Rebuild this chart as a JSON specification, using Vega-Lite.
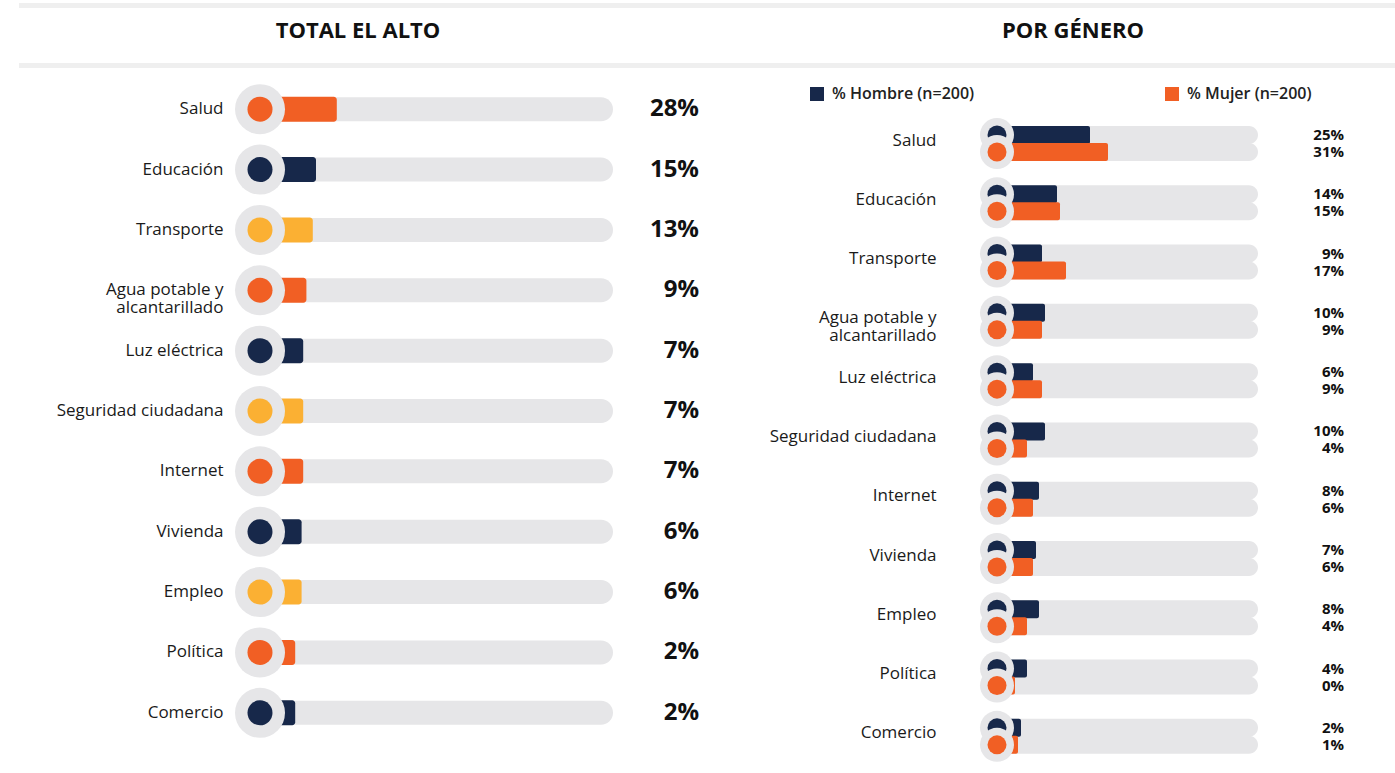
{
  "$schema": "https://vega.github.io/schema/vega-lite/v6.json",
  "padding": {"left": 18, "top": 2, "right": 0, "bottom": 0},
  "background": "white",
  "spacing": 0,
  "align": "none",
  "resolve": {"scale": {"color": "independent"}, "legend": {"color": "independent"}},
  "config": {"view": {"stroke": null}, "font": "Open Sans"},
  "datasets": {
    "total": [
      {"categoria": "Salud", "valor": 0.28},
      {"categoria": "Educación", "valor": 0.15},
      {"categoria": "Transporte", "valor": 0.13},
      {"categoria": "Agua potable y alcantarillado", "valor": 0.09},
      {"categoria": "Luz eléctrica", "valor": 0.07},
      {"categoria": "Seguridad ciudadana", "valor": 0.07},
      {"categoria": "Internet", "valor": 0.07},
      {"categoria": "Vivienda", "valor": 0.06},
      {"categoria": "Empleo", "valor": 0.06},
      {"categoria": "Política", "valor": 0.02},
      {"categoria": "Comercio", "valor": 0.02}
    ],
    "genero": [
      {"categoria": "Salud", "genero": "% Hombre (n=200)", "valor": 0.25},
      {"categoria": "Salud", "genero": "% Mujer (n=200)", "valor": 0.31},
      {"categoria": "Educación", "genero": "% Hombre (n=200)", "valor": 0.14},
      {"categoria": "Educación", "genero": "% Mujer (n=200)", "valor": 0.15},
      {"categoria": "Transporte", "genero": "% Hombre (n=200)", "valor": 0.09},
      {"categoria": "Transporte", "genero": "% Mujer (n=200)", "valor": 0.17},
      {"categoria": "Agua potable y alcantarillado", "genero": "% Hombre (n=200)", "valor": 0.10},
      {"categoria": "Agua potable y alcantarillado", "genero": "% Mujer (n=200)", "valor": 0.09},
      {"categoria": "Luz eléctrica", "genero": "% Hombre (n=200)", "valor": 0.06},
      {"categoria": "Luz eléctrica", "genero": "% Mujer (n=200)", "valor": 0.09},
      {"categoria": "Seguridad ciudadana", "genero": "% Hombre (n=200)", "valor": 0.10},
      {"categoria": "Seguridad ciudadana", "genero": "% Mujer (n=200)", "valor": 0.04},
      {"categoria": "Internet", "genero": "% Hombre (n=200)", "valor": 0.08},
      {"categoria": "Internet", "genero": "% Mujer (n=200)", "valor": 0.06},
      {"categoria": "Vivienda", "genero": "% Hombre (n=200)", "valor": 0.07},
      {"categoria": "Vivienda", "genero": "% Mujer (n=200)", "valor": 0.06},
      {"categoria": "Empleo", "genero": "% Hombre (n=200)", "valor": 0.08},
      {"categoria": "Empleo", "genero": "% Mujer (n=200)", "valor": 0.04},
      {"categoria": "Política", "genero": "% Hombre (n=200)", "valor": 0.04},
      {"categoria": "Política", "genero": "% Mujer (n=200)", "valor": 0.0},
      {"categoria": "Comercio", "genero": "% Hombre (n=200)", "valor": 0.02},
      {"categoria": "Comercio", "genero": "% Mujer (n=200)", "valor": 0.01}
    ]
  },
  "hconcat": [
    {
      "width": 505,
      "height": 664,
      "resolve": {"scale": {"y": "independent"}},
      "layer": [
        {
          "data": {"name": "total"},
          "encoding": {
            "y": {
              "field": "categoria", "type": "nominal", "sort": null,
              "scale": {"paddingInner": 0, "paddingOuter": 0},
              "axis": {
                "title": null, "domain": false, "ticks": false, "tickSize": 0,
                "labelPadding": 13, "labelFontSize": 17, "labelFont": "Open Sans",
                "labelColor": "#1a1a1a", "labelLimit": 300, "labelLineHeight": 18,
                "labelExpr": "datum.value == 'Agua potable y alcantarillado' ? ['Agua potable y', 'alcantarillado'] : datum.value"
              }
            }
          },
          "layer": [
            {
              "mark": {"type": "bar", "size": 24, "color": "#E6E6E8", "cornerRadius": 12},
              "encoding": {
                "x": {"datum": -0.2, "type": "quantitative", "scale": {"domain": [-0.35, 2.80625], "nice": false, "zero": false}, "axis": null},
                "x2": {"datum": 2.00625}
              }
            },
            {
              "mark": {"type": "bar", "size": 25, "cornerRadiusTopRight": 3, "cornerRadiusBottomRight": 3},
              "encoding": {
                "x": {"field": "valor", "type": "quantitative", "scale": {"domain": [-0.35, 2.80625], "nice": false, "zero": false}, "axis": null},
                "x2": {"datum": -0.2},
                "color": {
                  "field": "categoria", "type": "nominal", "legend": null,
                  "scale": {
                    "domain": ["Salud", "Educación", "Transporte", "Agua potable y alcantarillado", "Luz eléctrica", "Seguridad ciudadana", "Internet", "Vivienda", "Empleo", "Política", "Comercio"],
                    "range": ["#F15F24", "#17284A", "#FBB033", "#F15F24", "#17284A", "#FBB033", "#F15F24", "#17284A", "#FBB033", "#F15F24", "#17284A"]
                  }
                }
              }
            },
            {
              "mark": {"type": "point", "shape": "circle", "filled": true, "size": 2500, "color": "#E6E6E8", "opacity": 1},
              "encoding": {
                "x": {"datum": -0.2, "type": "quantitative", "scale": {"domain": [-0.35, 2.80625], "nice": false, "zero": false}, "axis": null}
              }
            },
            {
              "mark": {"type": "point", "shape": "circle", "filled": true, "size": 625, "opacity": 1},
              "encoding": {
                "x": {"datum": -0.2, "type": "quantitative", "scale": {"domain": [-0.35, 2.80625], "nice": false, "zero": false}, "axis": null},
                "color": {"field": "categoria", "type": "nominal", "legend": null}
              }
            },
            {
              "mark": {"type": "text", "align": "right", "baseline": "middle", "fontSize": 24, "fontWeight": "bold", "font": "Open Sans", "color": "#111111"},
              "encoding": {
                "x": {"datum": 2.54375, "type": "quantitative", "scale": {"domain": [-0.35, 2.80625], "nice": false, "zero": false}, "axis": null},
                "text": {"field": "valor", "type": "quantitative", "format": ".0%"}
              }
            }
          ]
        },
        {
          "data": {"values": [{"titulo": "TOTAL EL ALTO"}]},
          "layer": [
            {
              "mark": {"type": "rect", "color": "#EFEFEF"},
              "encoding": {
                "x": {"datum": -1.70625, "type": "quantitative", "scale": {"domain": [-0.35, 2.80625], "nice": false, "zero": false}, "axis": null},
                "x2": {"datum": 2.80625},
                "y": {"datum": -1.2590, "type": "quantitative", "scale": {"domain": [0, 11], "reverse": true, "nice": false, "zero": false}, "axis": null},
                "y2": {"datum": -1.1762}
              }
            },
            {
              "mark": {"type": "rect", "color": "#EFEFEF"},
              "encoding": {
                "x": {"datum": -1.70625, "type": "quantitative", "scale": {"domain": [-0.35, 2.80625], "nice": false, "zero": false}, "axis": null},
                "x2": {"datum": 2.80625},
                "y": {"datum": -0.2651, "type": "quantitative", "scale": {"domain": [0, 11], "reverse": true, "nice": false, "zero": false}, "axis": null},
                "y2": {"datum": -0.1822}
              }
            },
            {
              "mark": {"type": "text", "align": "center", "baseline": "middle", "fontSize": 22, "fontWeight": "bold", "font": "Open Sans", "color": "#111111"},
              "encoding": {
                "x": {"datum": 0.4125, "type": "quantitative", "scale": {"domain": [-0.35, 2.80625], "nice": false, "zero": false}, "axis": null},
                "y": {"datum": -0.7952, "type": "quantitative", "scale": {"domain": [0, 11], "reverse": true, "nice": false, "zero": false}, "axis": null},
                "text": {"field": "titulo"}
              }
            }
          ]
        }
      ]
    },
    {
      "width": 447,
      "height": 687,
      "resolve": {"scale": {"y": "independent"}},
      "layer": [
        {
          "data": {"name": "genero"},
          "encoding": {
            "y": {
              "field": "categoria", "type": "nominal", "sort": null,
              "scale": {"paddingInner": 0, "paddingOuter": 0.294, "align": 1},
              "axis": {
                "title": null, "domain": false, "ticks": false, "tickSize": 0,
                "labelPadding": 13, "labelFontSize": 17, "labelFont": "Open Sans",
                "labelColor": "#1a1a1a", "labelLimit": 300, "labelLineHeight": 18, "labelOffset": -3,
                "labelExpr": "datum.value == 'Agua potable y alcantarillado' ? ['Agua potable y', 'alcantarillado'] : datum.value"
              }
            },
            "yOffset": {
              "field": "genero", "type": "nominal",
              "scale": {"domain": ["% Hombre (n=200)", "% Mujer (n=200)"], "paddingInner": 0, "paddingOuter": 0.7434}
            }
          },
          "layer": [
            {
              "mark": {"type": "bar", "size": 18, "color": "#E6E6E8", "cornerRadius": 9},
              "encoding": {
                "x": {"datum": -0.06, "type": "quantitative", "scale": {"domain": [-0.22, 1.27], "nice": false, "zero": false}, "axis": null},
                "x2": {"datum": 0.81}
              }
            },
            {
              "mark": {"type": "bar", "size": 18, "cornerRadiusTopRight": 2, "cornerRadiusBottomRight": 2},
              "encoding": {
                "x": {"field": "valor", "type": "quantitative", "scale": {"domain": [-0.22, 1.27], "nice": false, "zero": false}, "axis": null},
                "x2": {"datum": -0.06},
                "color": {
                  "field": "genero", "type": "nominal",
                  "scale": {"domain": ["% Hombre (n=200)", "% Mujer (n=200)"], "range": ["#17284A", "#F15F24"]},
                  "legend": {
                    "title": null, "orient": "none", "legendX": -140, "legendY": 7,
                    "direction": "horizontal", "symbolType": "square", "symbolSize": 196,
                    "symbolStrokeWidth": 0, "labelFontSize": 16, "labelFont": "Open Sans",
                    "labelFontWeight": 600, "labelColor": "#222222", "labelOffset": 7,
                    "columnPadding": 189, "labelLimit": 300
                  }
                }
              }
            },
            {
              "transform": [{"filter": "datum.genero == '% Hombre (n=200)'"}],
              "mark": {"type": "point", "shape": "circle", "filled": true, "size": 1156, "color": "#E6E6E8", "opacity": 1},
              "encoding": {
                "x": {"datum": -0.06, "type": "quantitative", "scale": {"domain": [-0.22, 1.27], "nice": false, "zero": false}, "axis": null}
              }
            },
            {
              "transform": [{"filter": "datum.genero == '% Hombre (n=200)'"}],
              "mark": {"type": "point", "shape": "circle", "filled": true, "size": 361, "opacity": 1},
              "encoding": {
                "x": {"datum": -0.06, "type": "quantitative", "scale": {"domain": [-0.22, 1.27], "nice": false, "zero": false}, "axis": null},
                "color": {"field": "genero", "type": "nominal"}
              }
            },
            {
              "transform": [{"filter": "datum.genero == '% Mujer (n=200)'"}],
              "mark": {"type": "point", "shape": "circle", "filled": true, "size": 1156, "color": "#E6E6E8", "opacity": 1},
              "encoding": {
                "x": {"datum": -0.06, "type": "quantitative", "scale": {"domain": [-0.22, 1.27], "nice": false, "zero": false}, "axis": null}
              }
            },
            {
              "transform": [{"filter": "datum.genero == '% Mujer (n=200)'"}],
              "mark": {"type": "point", "shape": "circle", "filled": true, "size": 361, "opacity": 1},
              "encoding": {
                "x": {"datum": -0.06, "type": "quantitative", "scale": {"domain": [-0.22, 1.27], "nice": false, "zero": false}, "axis": null},
                "color": {"field": "genero", "type": "nominal"}
              }
            },
            {
              "mark": {"type": "text", "align": "right", "baseline": "middle", "fontSize": 15, "fontWeight": "bold", "font": "Open Sans", "color": "#111111"},
              "encoding": {
                "x": {"datum": 1.0967, "type": "quantitative", "scale": {"domain": [-0.22, 1.27], "nice": false, "zero": false}, "axis": null},
                "text": {"field": "valor", "type": "quantitative", "format": ".0%"}
              }
            }
          ]
        },
        {
          "data": {"values": [{"titulo": "POR GÉNERO"}]},
          "layer": [
            {
              "mark": {"type": "rect", "color": "#EFEFEF"},
              "encoding": {
                "x": {"datum": -0.91333, "type": "quantitative", "scale": {"domain": [-0.22, 1.27], "nice": false, "zero": false}, "axis": null},
                "x2": {"datum": 1.27},
                "y": {"datum": -1.2169, "type": "quantitative", "scale": {"domain": [0, 11], "reverse": true, "nice": false, "zero": false}, "axis": null},
                "y2": {"datum": -1.1368}
              }
            },
            {
              "mark": {"type": "rect", "color": "#EFEFEF"},
              "encoding": {
                "x": {"datum": -0.91333, "type": "quantitative", "scale": {"domain": [-0.22, 1.27], "nice": false, "zero": false}, "axis": null},
                "x2": {"datum": 1.27},
                "y": {"datum": -0.2562, "type": "quantitative", "scale": {"domain": [0, 11], "reverse": true, "nice": false, "zero": false}, "axis": null},
                "y2": {"datum": -0.1761}
              }
            },
            {
              "mark": {"type": "text", "align": "center", "baseline": "middle", "fontSize": 22, "fontWeight": "bold", "font": "Open Sans", "color": "#111111"},
              "encoding": {
                "x": {"datum": 0.1933, "type": "quantitative", "scale": {"domain": [-0.22, 1.27], "nice": false, "zero": false}, "axis": null},
                "y": {"datum": -0.7686, "type": "quantitative", "scale": {"domain": [0, 11], "reverse": true, "nice": false, "zero": false}, "axis": null},
                "text": {"field": "titulo"}
              }
            }
          ]
        }
      ]
    }
  ]
}
